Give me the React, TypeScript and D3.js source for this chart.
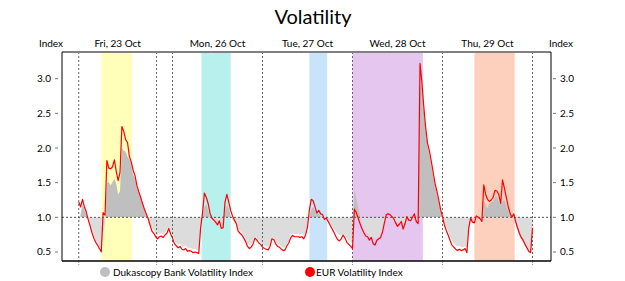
import React from "react";
import * as d3 from "d3";

// ---- data ----
const START_HOUR = -25; // hours relative to Mon 26 Oct 00:00 (weekend compressed)
const STEP_HOURS = 0.5;

const eurVolatility = [
  1.22,1.15,1.26,1.15,1.08,0.97,0.88,0.78,0.70,0.64,0.60,0.55,0.50,1.07,1.03,1.82,1.71,1.70,1.73,1.83,1.66,1.53,1.65,2.31,2.24,2.12,2.08,1.88,1.80,1.68,1.60,1.46,1.37,1.29,1.20,1.12,1.05,0.98,0.89,0.80,0.77,
  0.72,0.69,0.72,0.73,0.71,0.745,0.77,0.84,0.76,0.70,0.62,0.59,0.56,0.58,0.54,0.53,0.55,0.51,0.52,0.51,0.49,0.50,0.49,0.48,0.85,1.06,1.35,1.29,1.20,1.06,0.99,0.96,0.93,0.89,0.95,0.84,0.85,1.22,1.33,1.22,1.10,1.02,0.96,
  0.91,0.80,0.77,0.745,0.70,0.65,0.58,0.55,0.57,0.62,0.70,0.67,0.63,0.61,0.57,0.55,0.54,0.53,0.58,0.69,0.68,0.62,0.58,0.57,0.54,0.52,0.53,0.59,0.63,0.70,0.74,0.72,0.72,0.72,0.71,0.72,0.69,0.75,0.86,1.11,1.26,1.24,1.15,
  1.06,1.10,1.05,1.04,0.97,0.99,0.94,0.89,0.84,0.79,0.73,0.68,0.66,0.69,0.745,0.70,0.64,0.61,0.58,0.55,1.12,1.07,0.99,0.91,0.84,0.78,0.73,0.72,0.67,0.71,0.62,0.60,0.67,0.69,0.71,0.79,0.92,1.04,1.05,1.04,1.01,0.98,
  0.92,0.87,0.90,0.94,0.83,0.91,1.01,0.96,0.95,1.00,1.05,0.94,0.91,3.22,2.95,2.60,2.30,2.07,1.96,1.81,1.65,1.49,1.38,1.25,1.11,1.01,0.89,0.81,0.745,0.67,0.60,0.57,0.54,0.52,0.54,0.52,0.53,0.55,0.49,0.85,0.99,0.93,0.92,
  1.02,1.00,0.98,0.94,1.47,1.33,1.26,1.23,1.25,1.29,1.39,1.38,1.33,1.20,1.54,1.42,1.29,1.16,1.06,1.00,1.05,0.94,0.85,0.77,0.71,0.67,0.61,0.56,0.51,0.49,0.85,
];

const dukascopyVolatility = [
  0.88,1.05,1.18,1.12,1.05,0.97,0.88,0.80,0.72,0.66,0.62,0.58,0.55,0.77,0.90,1.49,1.51,1.46,1.51,1.56,1.48,1.33,1.38,2.00,1.96,1.95,1.87,1.84,1.78,1.62,1.55,1.44,1.36,1.27,1.19,1.11,1.04,0.98,0.90,0.85,0.82,
  0.76,0.74,0.76,0.77,0.75,0.78,0.82,0.86,0.80,0.74,0.67,0.63,0.61,0.62,0.59,0.58,0.59,0.56,0.56,0.55,0.54,0.55,0.53,0.53,0.80,0.98,1.15,1.18,1.10,1.00,0.95,0.93,0.90,0.88,0.90,0.86,0.88,1.08,1.18,1.12,1.02,0.96,0.92,
  0.90,0.83,0.80,0.78,0.74,0.69,0.63,0.60,0.61,0.66,0.72,0.70,0.67,0.64,0.61,0.59,0.58,0.57,0.61,0.70,0.70,0.65,0.62,0.60,0.58,0.56,0.57,0.62,0.66,0.74,0.77,0.76,0.76,0.76,0.75,0.76,0.74,0.77,0.85,1.00,1.12,1.15,1.10,
  1.05,1.05,1.02,1.00,0.97,0.96,0.93,0.90,0.87,0.84,0.80,0.77,0.74,0.74,0.76,0.74,0.70,0.67,0.64,0.62,1.39,1.28,1.14,1.02,0.93,0.86,0.80,0.76,0.73,0.71,0.70,0.70,0.71,0.73,0.76,0.84,0.92,0.99,1.00,0.99,0.98,0.97,
  0.95,0.93,0.94,0.95,0.90,0.93,0.98,0.97,0.96,0.98,1.00,0.96,0.94,2.90,2.85,2.55,2.25,2.03,1.90,1.76,1.60,1.46,1.34,1.22,1.09,0.99,0.92,0.86,0.80,0.73,0.67,0.63,0.60,0.58,0.59,0.57,0.57,0.58,0.56,0.82,0.93,0.93,0.92,
  1.00,0.99,0.98,0.96,1.25,1.17,1.13,1.20,1.22,1.22,1.30,1.30,1.22,1.20,1.23,1.25,1.17,1.10,1.03,0.97,0.98,0.90,0.82,0.73,0.67,0.63,0.58,0.54,0.51,0.50,0.85,
];

const dayLabels = ["Fri, 23 Oct", "Mon, 26 Oct", "Tue, 27 Oct", "Wed, 28 Oct", "Thu, 29 Oct"];
const daySeparators = [-25, -4.25, 0, 24, 48, 72, 96];
const sessionStarts = [-19, 7.75, 36.5, 48, 80.5];
const sessionEnds = [-10.75, 15.5, 41.25, 66.75, 91.25];
const sessionColors = ["#FFFFBA", "#B8F0EE", "#C8E3FA", "#E5C6EE", "#FCD0BD"];
const yTicks = [0.5, 1.0, 1.5, 2.0, 2.5, 3.0];
const seriesNames = ["Dukascopy Bank Volatility Index", "EUR Volatility Index"];

const W = 625, H = 281;
const L = 62, R = 551, T = 52, B = 261;
const FONT = "Lato, 'Open Sans', sans-serif";

export default function App() {
  const x = d3.scaleLinear().domain([-29.47, 100.93]).range([L, R]);
  const y = d3.scaleLinear().domain([0.37, 3.385]).range([B, T]);
  const times = eurVolatility.map((_, i) => START_HOUR + i * STEP_HOURS);

  const line = d3.line<number>().x((_, i) => x(times[i])).y((d) => y(d));
  const area = d3
    .area<number>()
    .x((_, i) => x(times[i]))
    .y0(y(1))
    .y1((d) => y(d));

  const dayCenters = dayLabels.map((_, i) => (daySeparators[i === 0 ? 0 : i + 1] + daySeparators[i === 0 ? 1 : i + 2]) / 2);

  return (
    <svg width={W} height={H} style={{ position: "absolute", left: 0, top: 0, background: "#fff" }} fontFamily={FONT}>
      <defs>
        <clipPath id="above">
          <rect x={L} y={T} width={R - L} height={y(1) - T} />
        </clipPath>
        <clipPath id="below">
          <rect x={L} y={y(1)} width={R - L} height={B - y(1)} />
        </clipPath>
      </defs>
      <text x={313} y={24} textAnchor="middle" fontSize={20} fill="#000">Volatility</text>

      {sessionStarts.map((s, i) => (
        <rect key={i} x={x(s)} y={T} width={x(sessionEnds[i]) - x(s)} height={B - T} fill={sessionColors[i]} />
      ))}

      <path d={area(dukascopyVolatility) || ""} fill="#BFBFBF" clipPath="url(#above)" />
      <path d={area(dukascopyVolatility) || ""} fill="#DCDCDC" clipPath="url(#below)" />

      {daySeparators.map((s, i) => (
        <g key={i}>
          <line x1={x(s)} x2={x(s)} y1={T} y2={B} stroke="#555" strokeWidth={0.9} strokeDasharray="2,2" />
          <line x1={x(s)} x2={x(s)} y1={B + 1} y2={B + 5} stroke="#888" strokeWidth={0.9} strokeDasharray="1,1" />
        </g>
      ))}
      <line x1={L} x2={R} y1={y(1)} y2={y(1)} stroke="#444" strokeWidth={0.9} strokeDasharray="2,2" />

      <path d={line(eurVolatility) || ""} fill="none" stroke="#FF0000" strokeWidth={1.2} strokeLinejoin="round" />

      {/* frame */}
      <line x1={L} x2={R} y1={T} y2={T} stroke="#808080" strokeWidth={2} />
      <line x1={L} x2={L} y1={T} y2={B} stroke="#000" strokeWidth={1} />
      <line x1={R} x2={R} y1={T} y2={B} stroke="#000" strokeWidth={1} />
      <line x1={L} x2={R} y1={B} y2={B} stroke="#000" strokeWidth={1.5} />

      {yTicks.map((v) => (
        <g key={v}>
          <line x1={55} x2={58} y1={y(v)} y2={y(v)} stroke="#777" />
          <text x={51} y={y(v) + 3.5} textAnchor="end" fontSize={10} fill="#000">{v.toFixed(1)}</text>
          <line x1={553} x2={556} y1={y(v)} y2={y(v)} stroke="#777" />
          <text x={560} y={y(v) + 3.5} textAnchor="start" fontSize={10} fill="#000">{v.toFixed(1)}</text>
        </g>
      ))}

      <text x={51} y={47} textAnchor="middle" fontSize={10}>Index</text>
      <text x={561} y={47} textAnchor="middle" fontSize={10}>Index</text>
      {dayLabels.map((d, i) => (
        <text key={d} x={x(dayCenters[i])} y={47} textAnchor="middle" fontSize={10}>{d}</text>
      ))}

      <circle cx={105} cy={272} r={5} fill="#BFBFBF" />
      <text x={113} y={275.5} fontSize={10}>{seriesNames[0]}</text>
      <circle cx={310} cy={272} r={5} fill="#FF0000" />
      <text x={316} y={275.5} fontSize={10}>{seriesNames[1]}</text>
    </svg>
  );
}
